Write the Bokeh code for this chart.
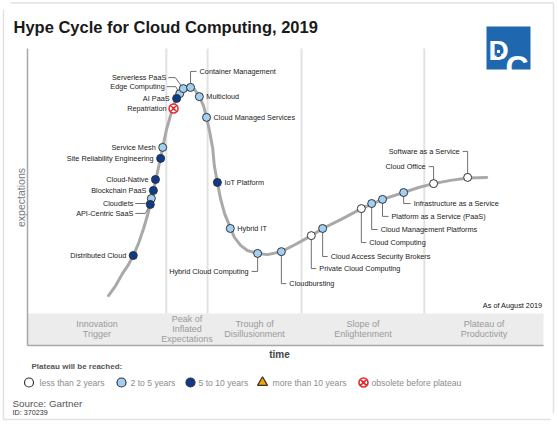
import math
from bokeh.plotting import figure
from bokeh.models import Range1d, ColumnDataSource
from bokeh.core.properties import value
from bokeh.embed import file_html
from bokeh.resources import INLINE

# ---------------- data ----------------
# time position (0..100 along the time axis) and expectation (0..100)
tech_names = ["Distributed Cloud", "API-Centric SaaS", "Cloudlets", "Blockchain PaaS",
              "Cloud-Native", "Site Reliability Engineering", "Service Mesh", "Repatriation",
              "AI PaaS", "Edge Computing", "Serverless PaaS", "Container Management",
              "Multicloud", "Cloud Managed Services", "IoT Platform", "Hybrid IT",
              "Hybrid Cloud Computing", "Cloudbursting", "Private Cloud Computing",
              "Cloud Access Security Brokers", "Cloud Computing", "Cloud Management Platforms",
              "Platform as a Service (PaaS)", "Infrastructure as a Service", "Cloud Office",
              "Software as a Service"]
tech_time = [20.5, 23.8, 24.0, 24.4, 24.8, 25.8, 26.2, 28.3, 28.9, 29.5, 30.2, 31.6, 33.3,
             34.7, 36.8, 39.3, 44.6, 49.2, 55.0, 57.2, 64.7, 66.7, 68.8, 72.9, 78.7, 85.3]
tech_expectation = [30.3, 47.5, 49.5, 52.2, 55.9, 63.0, 66.7, 79.8, 83.2, 84.8, 86.5, 86.9,
                    83.8, 76.8, 54.9, 39.4, 31.0, 31.6, 37.0, 39.4, 46.1, 47.8, 49.2, 51.5,
                    54.5, 56.6]
tech_plateau = ["5-10", "5-10", "2-5", "5-10", "5-10", "5-10", "2-5", "obsolete", "5-10",
                "2-5", "2-5", "2-5", "2-5", "2-5", "5-10", "2-5", "2-5", "2-5", "<2", "2-5",
                "<2", "2-5", "2-5", "2-5", "<2", "<2"]

# the hype-cycle curve
curve_time = [15.7, 17.1, 18.4, 19.6, 20.5, 21.5, 22.5, 23.3, 23.8, 24.4, 25.0, 25.6, 26.2,
              26.9, 27.7, 28.3, 28.9, 29.5, 30.2, 30.8, 31.6, 32.4, 33.3, 34.1, 34.7, 35.3,
              35.9, 36.2, 36.8, 37.4, 38.2, 39.2, 40.1, 41.3, 42.6, 44.6, 46.5, 49.2, 51.9,
              55.0, 57.2, 60.7, 64.7, 66.9, 68.8, 72.9, 75.8, 78.7, 82.0, 85.3, 89.0]
curve_expectation = [16.8, 20.2, 24.2, 27.3, 30.3, 34.3, 39.4, 44.1, 47.5, 52.2, 56.9, 61.6,
                     66.7, 72.4, 77.4, 80.5, 83.2, 85.2, 86.5, 87.0, 87.0, 86.2, 83.8, 80.8,
                     76.8, 72.0, 66.3, 60.6, 54.9, 49.5, 44.4, 40.1, 36.4, 33.7, 32.0, 31.0,
                     30.6, 31.6, 34.0, 37.0, 39.4, 42.4, 46.1, 47.8, 49.2, 51.5, 53.2, 54.5,
                     55.6, 56.4, 56.6]

phase_bounds = [0, 26.9, 34.9, 53.1, 76.9, 100]
phase_names = [["Innovation", "Trigger"], ["Peak of", "Inflated", "Expectations"],
               ["Trough of", "Disillusionment"], ["Slope of", "Enlightenment"],
               ["Plateau of", "Productivity"]]

legend_keys = ["<2", "2-5", "5-10", ">10", "obsolete"]
legend_labels = ["less than 2 years", "2 to 5 years", "5 to 10 years",
                 "more than 10 years", "obsolete before plateau"]

# ---------------- styles / layout ----------------
FONT = value("Liberation Sans")
fills = {"<2": "#ffffff", "2-5": "#a3cff3", "5-10": "#0d3a8c", ">10": "#f5a300",
         "obsolete": "#ffffff"}
markers = {"<2": "circle", "2-5": "circle", "5-10": "circle", ">10": "triangle",
           "obsolete": "circle_x"}
lines = {"<2": "#333333", "2-5": "#333333", "5-10": "#333333", ">10": "#333333",
         "obsolete": "#e8262b"}

# label placement: (align, dx, dy, leader offsets) in screen pixels from the marker
label_layout = {
    "Distributed Cloud": ("right", -7, 0, None),
    "API-Centric SaaS": ("right", -17, 9, [(0, 0), (-5, 9), (-15, 9)]),
    "Cloudlets": ("right", -18, 5, [(0, 0), (-6, 5), (-16, 5)]),
    "Blockchain PaaS": ("right", -7, 0, None),
    "Cloud-Native": ("right", -7, 0, None),
    "Site Reliability Engineering": ("right", -7, 0, None),
    "Service Mesh": ("right", -7, 0, None),
    "Repatriation": ("right", -7, 0, None),
    "AI PaaS": ("right", -7, 0, None),
    "Edge Computing": ("right", -15, -7, [(0, 0), (-4, -7), (-13, -7)]),
    "Serverless PaaS": ("right", -17, -11, [(0, 0), (-8, -11), (-15, -11)]),
    "Container Management": ("left", 9, -16, [(0, 0), (0, -16), (6, -16)]),
    "Multicloud": ("left", 7, 0, None),
    "Cloud Managed Services": ("left", 7, 0, None),
    "IoT Platform": ("left", 7, 0, None),
    "Hybrid IT": ("left", 7, 0, None),
    "Hybrid Cloud Computing": ("right", -9, 18, [(0, 0), (0, 18), (-6, 18)]),
    "Cloudbursting": ("left", 8, 32, [(0, 0), (0, 32), (5, 32)]),
    "Private Cloud Computing": ("left", 8, 33, [(0, 0), (0, 33), (5, 33)]),
    "Cloud Access Security Brokers": ("left", 8, 28, [(0, 0), (0, 28), (5, 28)]),
    "Cloud Computing": ("left", 8, 34, [(0, 0), (0, 34), (5, 34)]),
    "Cloud Management Platforms": ("left", 9, 26, [(0, 0), (0, 26), (6, 26)]),
    "Platform as a Service (PaaS)": ("left", 9, 17, [(0, 0), (0, 17), (6, 17)]),
    "Infrastructure as a Service": ("left", 10, 11, [(0, 0), (0, 11), (7, 11)]),
    "Cloud Office": ("right", -8, -17, [(0, 0), (0, -17), (-5, -17)]),
    "Software as a Service": ("right", -8, -26, [(0, 0), (0, -26), (-5, -26)]),
}

# page geometry: main coordinates are page pixels (canvas renders at page origin)
W, H = 556, 422
ORIGIN_X, ORIGIN_Y = 27.0, 345.0     # page px of the time/expectation origin
PX_T, PX_E = 5.16, 2.97              # page px per time unit / expectation unit

p = figure(width=W, height=H, output_backend="svg", toolbar_location=None,
           x_range=Range1d(0, W), y_range=Range1d(H, 0),
           x_axis_type=None, y_axis_type=None, min_border=0, title=None)
p.outline_line_color = None
p.background_fill_color = "white"
p.border_fill_color = "white"
p.extra_x_ranges = {"time": Range1d((0 - ORIGIN_X) / PX_T, (W - ORIGIN_X) / PX_T)}
p.extra_y_ranges = {"exp": Range1d((ORIGIN_Y - H) / PX_E, (ORIGIN_Y - 0) / PX_E)}
TE = dict(x_range_name="time", y_range_name="exp")

# card frame
p.multi_line([[10, 553], [3, 3], [3, 550], [553, 553]],
             [[2.5, 2.5], [9, 419], [419, 419], [2.5, 413]],
             line_color="#e2e2e2", line_width=1.5)

band_top = 10.8
# phase band
p.quad(left=[0], right=[100], bottom=[0], top=[band_top], fill_color="#ececec",
       line_color=None, **TE)
# phase separators
p.segment(x0=phase_bounds[1:-1], x1=phase_bounds[1:-1], y0=[band_top] * 4, y1=[100] * 4,
          line_color="#e2e2e2", line_width=2, **TE)
# axes
p.line([0, 0], [0, 100], line_color="#a8a8a8", line_width=1.5, **TE)
p.line([0, 100], [0, 0], line_color="#a8a8a8", line_width=1.5, **TE)

# phase labels
for i, lines_ in enumerate(phase_names):
    mid = (phase_bounds[i] + phase_bounds[i + 1]) / 2
    n = len(lines_)
    for j, t in enumerate(lines_):
        p.text(x=[mid], y=[band_top / 2], text=[t], y_offset=(j - (n - 1) / 2) * 10,
               text_align="center", text_baseline="middle", text_font=FONT,
               text_font_size="9px", text_color="#9a9a9a", **TE)

# curve
p.line(curve_time, curve_expectation, line_color="#a9a9a9", line_width=3,
       line_join="round", line_cap="round", **TE)

# leaders (computed from marker positions + pixel offsets)
lx, ly = [], []
for n_, t, e in zip(tech_names, tech_time, tech_expectation):
    lead = label_layout[n_][3]
    if lead:
        px, py = ORIGIN_X + t * PX_T, ORIGIN_Y - e * PX_E
        lx.append([px + dx for dx, dy in lead])
        ly.append([py + dy for dx, dy in lead])
p.multi_line(lx, ly, line_color="#707070", line_width=1)

# markers
for key in legend_keys:
    idx = [i for i, c in enumerate(tech_plateau) if c == key]
    if not idx:
        continue
    p.scatter([tech_time[i] for i in idx], [tech_expectation[i] for i in idx],
              marker=markers[key], size=8 if key != "obsolete" else 9,
              fill_color=fills[key], line_color=lines[key],
              line_width=1 if key != "obsolete" else 1.5, **TE)

# labels
for align in ("left", "right"):
    idx = [i for i, n_ in enumerate(tech_names) if label_layout[n_][0] == align]
    src = ColumnDataSource(dict(
        x=[tech_time[i] for i in idx], y=[tech_expectation[i] for i in idx],
        text=[tech_names[i] for i in idx],
        dx=[label_layout[tech_names[i]][1] for i in idx],
        dy=[label_layout[tech_names[i]][2] for i in idx]))
    p.text(x="x", y="y", text="text", x_offset="dx", y_offset="dy", source=src,
           text_align=align, text_baseline="middle", text_font=FONT,
           text_font_size="7.3px", text_color="#222222", **TE)

# ---------------- page texts ----------------
def txt(x, y, s, size, color="#222222", align="left", baseline="middle", style="normal",
        angle=0.0):
    p.text(x=[x], y=[y], text=[s], text_font=FONT, text_font_size=size,
           text_color=color, text_align=align, text_baseline=baseline,
           text_font_style=style, angle=angle)

txt(13, 26, "Hype Cycle for Cloud Computing, 2019", "16.5px", "#1a1a1a",
    baseline="alphabetic", style="bold")
txt(20, 197, "expectations", "10.5px", "#7a7a7a", align="center", angle=math.pi / 2)
txt(279, 354, "time", "10px", "#444444", align="center", style="bold")
txt(542, 305, "As of August 2019", "7.3px", "#111111", align="right")
txt(31, 366, "Plateau will be reached:", "8px", "#555555", style="bold")
txt(12, 403, "Source: Gartner", "9.8px", "#555555")
txt(12, 412, "ID: 370239", "7.2px", "#333333")

# legend
leg_mx = [28.5, 121, 190, 262, 363]
leg_tx = [39, 130, 198, 272, 371]
for key, lab, mx, tx in zip(legend_keys, legend_labels, leg_mx, leg_tx):
    p.scatter([mx], [382], marker=markers[key], size=9 if key != ">10" else 10,
              fill_color=fills[key], line_color=lines[key],
              line_width=1.2 if key != "obsolete" else 1.6)
    txt(tx, 382, lab, "8.6px", "#8c8c8c")

# logo
p.quad(left=[486], right=[530], top=[26], bottom=[69], fill_color="#1f68b0",
       line_color=None)
txt(488, 50, "D", "28px", "white", baseline="alphabetic", style="bold")
txt(505, 66, "C", "32px", "white", baseline="alphabetic", style="bold")
p.rect(x=[498, 502, 495], y=[51, 54.5, 56], width=[3, 2.5, 2], height=[3, 2.5, 2],
       fill_color="white", line_color=None)

open("out.html", "w").write(file_html(p, INLINE))
